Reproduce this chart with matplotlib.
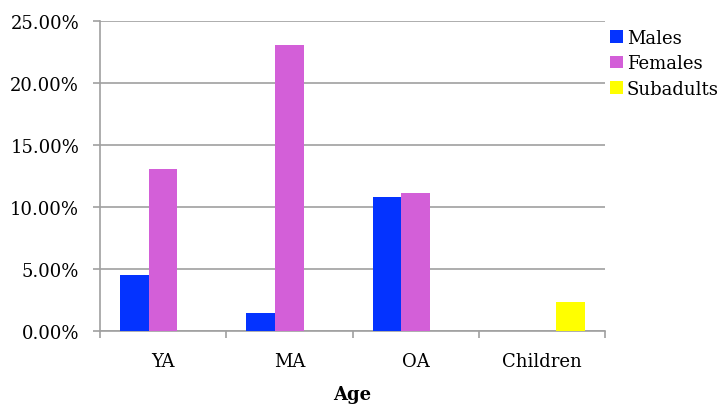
import matplotlib
matplotlib.use("Agg")
import matplotlib.pyplot as plt
import numpy as np
from matplotlib.ticker import FuncFormatter

categories = ["YA", "MA", "OA", "Children"]
males = [4.5, 1.45, 10.8, 0.0]
females = [13.1, 23.1, 11.1, 0.0]
subadults = [0.0, 0.0, 0.0, 2.3]

series_names = ["Males", "Females", "Subadults"]
colors = ["#0433FF", "#D35FD8", "#FFFF00"]

plt.rcParams["font.family"] = ["DejaVu Serif"]

fig = plt.figure(figsize=(7.21, 4.06), dpi=100)
ax = fig.add_axes([100 / 721, 1 - 332 / 406, 505 / 721, 310 / 406])

x = np.arange(len(categories))
w = 0.227
for i, (vals, name, c) in enumerate(zip([males, females, subadults], series_names, colors)):
    ax.bar(x + (i - 1) * w, vals, width=w, color=c, label=name, zorder=3)

ax.set_xlim(-0.5, len(categories) - 0.5)
ax.set_ylim(0, 25)
ax.set_yticks(np.arange(0, 25.01, 5))
ax.yaxis.set_major_formatter(FuncFormatter(lambda v, p: f"{v:.2f}%"))
ax.grid(axis="y", color="#A0A0A0", linewidth=1.2, zorder=0)

ax.set_xticks(np.arange(-0.5, len(categories), 1.0))
ax.set_xticklabels([])
ax.set_xticks(x, minor=True)
ax.set_xticklabels(categories, minor=True, fontsize=13)
ax.tick_params(axis="x", which="minor", length=0, pad=15)
ax.tick_params(axis="x", which="major", length=5, color="#A0A0A0", width=1.2)
ax.tick_params(axis="y", length=5, color="#A0A0A0", width=1.2, labelsize=13, pad=10)

for s in ["top", "right"]:
    ax.spines[s].set_visible(False)
for s in ["left", "bottom"]:
    ax.spines[s].set_color("#A0A0A0")
    ax.spines[s].set_linewidth(1.2)

ax.set_xlabel("Age", fontsize=13, fontweight="bold", labelpad=11)

ax.legend(loc="upper left", bbox_to_anchor=(1.01, 0.975), frameon=False,
          fontsize=13, handlelength=0.72, handleheight=0.72, handletextpad=0.2,
          labelspacing=0.42, borderaxespad=0, borderpad=0)

fig.savefig("out.png", dpi=100)
